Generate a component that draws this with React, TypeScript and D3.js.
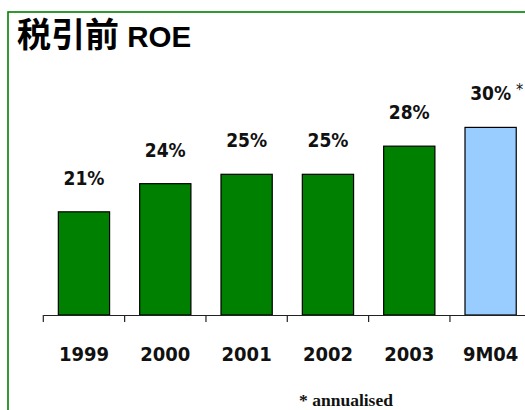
import { useEffect, useRef } from "react"
import * as d3 from "d3"

const categories = ["1999", "2000", "2001", "2002", "2003", "9M04"]
const roe = [21, 24, 25, 25, 28, 30]
const annualised = [false, false, false, false, false, true]
const yDomain = [10, 35]
const titleCjk = "税引前"
const titleLatin = "ROE"
const footnote = "* annualised"

function App() {
    const ref = useRef<SVGSVGElement>(null)

    useEffect(() => {
        const width = 525
        const height = 410
        const svg = d3.select(ref.current)
        svg.selectAll("*").remove()

        // Frame
        svg.append("rect")
            .attr("x", 8)
            .attr("y", 12)
            .attr("width", width)
            .attr("height", height)
            .attr("fill", "none")
            .attr("stroke", "#008000")
            .attr("stroke-width", 1.6)

        // Title
        const title = svg.append("text")
            .attr("x", 17)
            .attr("y", 47)
            .attr("font-weight", "bold")
            .attr("fill", "#000")
        title.append("tspan")
            .attr("font-family", "'Noto Sans CJK SC', sans-serif")
            .attr("font-size", 34)
            .text(titleCjk)
        title.append("tspan")
            .attr("font-family", "'Liberation Sans', Arial, sans-serif")
            .attr("font-size", 29.5)
            .text(" " + titleLatin)

        // Scales
        const axisY = 315
        const x = d3.scaleBand()
            .domain(categories)
            .range([43.3, 43.3 + 81.33 * categories.length])
            .padding(0)
        const y = d3.scaleLinear()
            .domain(yDomain)
            .range([axisY, axisY - 9.38 * (yDomain[1] - yDomain[0])])
        const barW = x.bandwidth() * 0.63
        const data = categories.map((c, i) => ({ c, v: roe[i], a: annualised[i] }))

        // Bars
        svg.selectAll("rect.bar")
            .data(data)
            .enter()
            .append("rect")
            .attr("class", "bar")
            .attr("x", d => x(d.c)! + (x.bandwidth() - barW) / 2)
            .attr("y", d => y(d.v))
            .attr("width", barW)
            .attr("height", d => axisY - y(d.v))
            .attr("fill", d => d.a ? "#99ccff" : "#008000")
            .attr("stroke", "#000")
            .attr("stroke-width", 1.2)

        // Axis
        const axis = svg.append("g")
            .attr("transform", `translate(0, ${axisY})`)
            .call(d3.axisBottom(x).tickSize(0).tickFormat(() => ""))
        axis.select(".domain").attr("stroke", "#222").attr("stroke-width", 1.2)
        axis.selectAll(".tick").remove()
        axis.selectAll("line.cat")
            .data(categories)
            .enter()
            .append("line")
            .attr("class", "cat")
            .attr("x1", d => x(d)!)
            .attr("x2", d => x(d)!)
            .attr("y1", 0)
            .attr("y2", 7)
            .attr("stroke", "#222")
            .attr("stroke-width", 1.2)

        const labelFont = "'DejaVu Sans Condensed', 'Open Sans', sans-serif"

        // Category labels
        svg.selectAll("text.cat")
            .data(categories)
            .enter()
            .append("text")
            .attr("class", "cat")
            .attr("x", d => x(d)! + x.bandwidth() / 2)
            .attr("y", axisY + 46)
            .attr("text-anchor", "middle")
            .attr("font-family", labelFont)
            .attr("font-weight", "bold")
            .attr("font-size", 20)
            .attr("fill", "#111")
            .text(d => d)

        // Value labels
        const vl = svg.selectAll("text.val")
            .data(data)
            .enter()
            .append("text")
            .attr("class", "val")
            .attr("x", d => x(d.c)! + x.bandwidth() / 2)
            .attr("y", d => y(d.v) - 27)
            .attr("text-anchor", "middle")
            .attr("font-family", labelFont)
            .attr("font-weight", "bold")
            .attr("font-size", 19)
            .attr("fill", "#111")
            .text(d => `${d.v}%`)

        vl.filter(d => d.a).each(function (d) {
            const bb = (this as SVGTextElement).getBBox()
            svg.append("text")
                .attr("x", bb.x + bb.width + 5)
                .attr("y", y(d.v) - 32)
                .attr("font-family", labelFont)
                .attr("font-size", 16)
                .attr("fill", "#111")
                .text("*")
        })

        // Footnote
        svg.append("text")
            .attr("x", 346)
            .attr("y", 406)
            .attr("text-anchor", "middle")
            .attr("font-family", "'Liberation Serif', 'Times New Roman', serif")
            .attr("font-weight", "bold")
            .attr("font-size", 17.5)
            .attr("fill", "#111")
            .text(footnote)
    })

    return (
        <svg ref={ref} width="525" height="410"
            style={{ position: "absolute", left: 0, top: 0, background: "#fff" }}></svg>
    )
}

export default App
